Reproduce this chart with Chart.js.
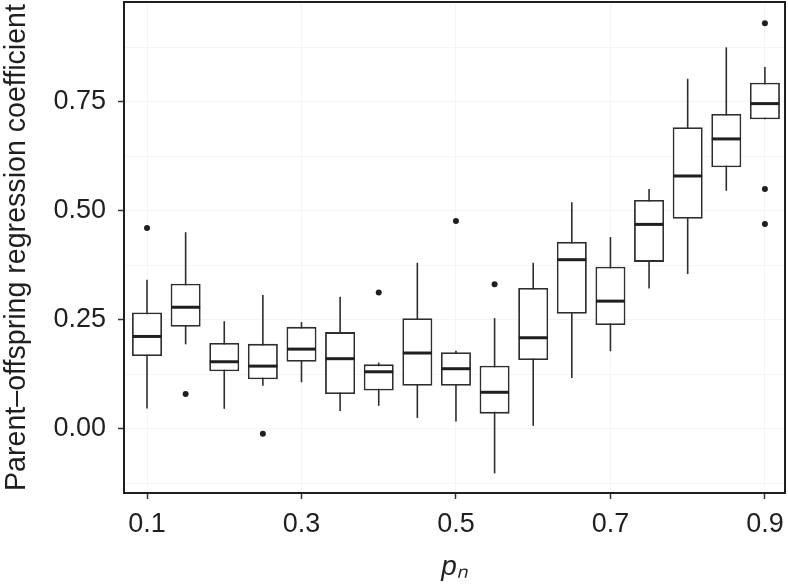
<!DOCTYPE html>
<html>
<head>
<meta charset="utf-8">
<script src="https://cdn.jsdelivr.net/npm/chart.js@4.4.1/dist/chart.umd.min.js"></script>
<style>
  html, body { margin: 0; padding: 0; background: #ffffff; }
  #wrap { width: 788px; height: 586px; position: relative; }
</style>
</head>
<body>
<div id="wrap"><canvas id="c" width="788" height="586"></canvas></div>
<script>
// ---- data ----
const pn      = [0.1, 0.15, 0.2, 0.25, 0.3, 0.35, 0.4, 0.45, 0.5, 0.55, 0.6, 0.65, 0.7, 0.75, 0.8, 0.85, 0.9];
const lower   = [0.047, 0.194, 0.046, 0.099, 0.107, 0.041, 0.053, 0.025, 0.017, -0.102, 0.007, 0.117, 0.178, 0.322, 0.355, 0.546, 0.710];
const q1      = [0.167, 0.234, 0.132, 0.114, 0.154, 0.080, 0.088, 0.099, 0.099, 0.035, 0.158, 0.264, 0.238, 0.383, 0.482, 0.600, 0.710];
const median  = [0.212, 0.279, 0.154, 0.144, 0.183, 0.161, 0.131, 0.174, 0.138, 0.084, 0.209, 0.388, 0.293, 0.469, 0.580, 0.665, 0.746];
const q3      = [0.267, 0.333, 0.197, 0.195, 0.234, 0.222, 0.148, 0.254, 0.176, 0.145, 0.323, 0.429, 0.372, 0.525, 0.692, 0.722, 0.794];
const upper   = [0.342, 0.451, 0.247, 0.307, 0.245, 0.303, 0.152, 0.381, 0.179, 0.254, 0.381, 0.520, 0.440, 0.550, 0.803, 0.875, 0.830];
const outlierX = [0.1, 0.15, 0.25, 0.4, 0.5, 0.55, 0.9, 0.9, 0.9];
const outlierY = [0.461, 0.080, -0.011, 0.313, 0.477, 0.332, 0.930, 0.550, 0.470];

const xTickValues = [0.1, 0.3, 0.5, 0.7, 0.9];
const xTickLabels = ['0.1', '0.3', '0.5', '0.7', '0.9'];
const yTickValues = [0, 0.25, 0.5, 0.75];
const yTickLabels = ['0.00', '0.25', '0.50', '0.75'];
const yMinorValues = [-0.125, 0.125, 0.375, 0.625, 0.875];

const xTitle = 'p\u2099';
const yTitle = 'Parent\u2013offspring regression coefficient';

// ---- build datasets ----
const whiskerData = pn.map((x, i) => ({ x: x, y: [lower[i], upper[i]] }));
const boxData     = pn.map((x, i) => ({ x: x, y: [q1[i], q3[i]] }));
const medianData  = pn.map((x, i) => ({ x: x, y: median[i] }));
const outlierData = outlierX.map((x, i) => ({ x: x, y: outlierY[i] }));

const FONT = "'Liberation Sans', Arial, Helvetica, sans-serif";
const INK = '#1f1f1f';
const LINE = '#2e2e2e';

const framePlugin = {
  id: 'frame',
  afterDraw(chart) {
    const a = chart.chartArea, ctx = chart.ctx;
    ctx.save();
    ctx.strokeStyle = INK;
    ctx.lineWidth = 2;
    ctx.strokeRect(a.left, a.top, a.right - a.left, a.bottom - a.top);
    ctx.restore();
  }
};

new Chart(document.getElementById('c'), {
  type: 'bar',
  data: {
    datasets: [
      {
        label: 'whiskers', data: whiskerData, order: 4,
        backgroundColor: LINE, borderWidth: 0, barThickness: 1.6,
        grouped: false, inflateAmount: 0, borderSkipped: false
      },
      {
        label: 'boxes', data: boxData, order: 3,
        backgroundColor: '#ffffff', borderColor: LINE, borderWidth: 1.8,
        barThickness: 30, grouped: false, inflateAmount: 0, borderSkipped: false
      },
      {
        type: 'scatter', label: 'median', data: medianData, order: 2,
        pointStyle: 'line', pointRadius: 14.5, pointHoverRadius: 14.5,
        borderColor: INK, pointBorderWidth: 3, borderWidth: 3
      },
      {
        type: 'scatter', label: 'outliers', data: outlierData, order: 1,
        pointStyle: 'circle', pointRadius: 3, pointHoverRadius: 3,
        backgroundColor: INK, borderColor: INK, borderWidth: 0
      }
    ]
  },
  options: {
    responsive: false,
    animation: false,
    events: [],
    layout: { autoPadding: false, padding: { top: 2, right: 3, left: 0, bottom: 0 } },
    plugins: { legend: { display: false }, tooltip: { enabled: false } },
    scales: {
      x: {
        type: 'linear',
        min: 0.0702, max: 0.926,
        offset: false,
        afterBuildTicks: (s) => { s.ticks = xTickValues.map(v => ({ value: v })); },
        afterFit: (s) => { s.height = 93; s.paddingLeft = 0; s.paddingRight = 0; },
        border: { display: false },
        grid: { offset: false, color: '#f4f4f4', lineWidth: 1, tickColor: '#333333', tickLength: 6, tickWidth: 1.5 },
        ticks: {
          autoSkip: false, maxRotation: 0, padding: 9, color: INK,
          font: { family: FONT, size: 27 },
          callback: (v, i) => xTickLabels[i]
        },
        title: {
          display: true, text: xTitle, color: INK, padding: { top: 0, bottom: 2 },
          font: { family: FONT, size: 28, style: 'italic' }
        }
      },
      y: {
        type: 'linear',
        min: -0.147, max: 0.979,
        afterBuildTicks: (s) => {
          const all = yTickValues.concat(yMinorValues).sort((a, b) => a - b);
          s.ticks = all.map(v => ({ value: v }));
        },
        afterFit: (s) => { s.width = 124; s.paddingTop = 0; s.paddingBottom = 0; },
        border: { display: false },
        grid: {
          color: '#f4f4f4', lineWidth: 1, tickLength: 6, tickWidth: 1.5,
          tickColor: (ctx) => (ctx.tick && yTickValues.includes(ctx.tick.value)) ? '#333333' : 'rgba(0,0,0,0)'
        },
        ticks: {
          autoSkip: false, padding: 12, color: INK,
          font: { family: FONT, size: 27 },
          callback: (v) => { const k = yTickValues.indexOf(v); return k >= 0 ? yTickLabels[k] : ''; }
        },
        title: {
          display: true, text: yTitle, color: INK, padding: { top: 0, bottom: 0 },
          font: { family: FONT, size: 28.6 }
        }
      }
    }
  },
  plugins: [framePlugin]
});
</script>
</body>
</html>
